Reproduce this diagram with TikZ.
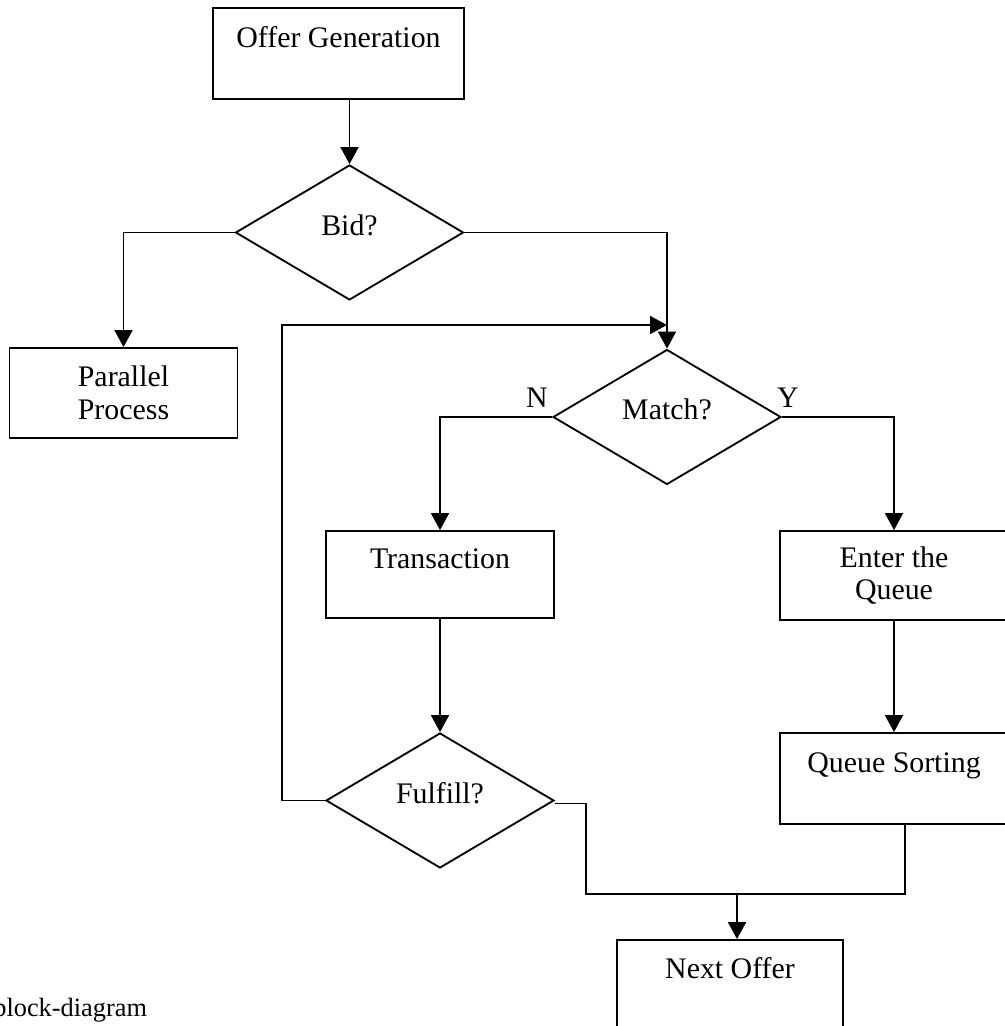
\documentclass[tikz,border=0pt]{standalone}
\usepackage{fontspec}
\setmainfont{Liberation Serif}
\usetikzlibrary{arrows.meta,shapes.geometric}

\begin{document}
\begin{tikzpicture}[x=0.02cm, y=-0.02cm,
        every node/.style={font=\fontsize{17}{18.5}\selectfont},
        box/.style={draw, line width=1.05pt, minimum width=4.56cm, minimum height=1.8cm, align=center, inner sep=2pt},
        topbox/.style={box, text height=12pt, text depth=19pt},
        decision/.style={draw, diamond, line width=1.05pt, aspect=1.7, inner sep=0pt,
            minimum width=4.56cm, minimum height=2.7cm, text height=12pt, text depth=9pt},
        flow/.style={line width=1.05pt, -{Triangle[length=0.34cm,width=0.36cm]}},
        link/.style={line width=1.05pt}]
    \useasboundingbox (0,0) rectangle (1004,1026);

    \node[topbox, minimum width=5.02cm, minimum height=1.82cm] (offer) at (338.5,53.5) {Offer Generation};
    \node[decision] (bid) at (349.5,232.5) {Bid?};
    \node[box] (parallel) at (123.5,393) {Parallel\\Process};
    \node[decision] (match) at (667,417) {Match?};
    \node[topbox, minimum height=1.74cm] (transaction) at (440,574.5) {Transaction};
    \node[box, minimum height=1.78cm] (enter) at (894,575.5) {Enter the\\Queue};
    \node[decision] (fulfill) at (440,800.5) {Fulfill?};
    \node[topbox, minimum height=1.82cm] (sorting) at (894,778.5) {Queue Sorting};
    \node[topbox, minimum width=4.52cm] (nextoffer) at (730,985) {Next Offer};

    \node (lblN) at (537,398) {N};
    \node (lblY) at (788,398) {Y};

    \coordinate (loopout) at (282,800.5);
    \coordinate (loopin) at (667,325);
    \coordinate (merge) at (737,894);

    \draw[flow] (offer.south -| bid.north) -- (bid.north);
    \draw[flow] (bid.west) -| (parallel.north);
    \draw[flow] (bid.east) -| (match.north);
    \draw[flow] (fulfill.west) -- (loopout) |- (loopin);
    \draw[flow] (match.west) -| (transaction.north);
    \draw[flow] (match.east) -| (enter.north);
    \draw[flow] (transaction.south) -- (fulfill.north);
    \draw[flow] (enter.south) -- (sorting.north);
    \draw[link] ([xshift=0.22cm]sorting.south) |- (merge);
    \draw[link] ([yshift=-0.06cm]fulfill.east) -- ++(31,0) |- (merge);
    \draw[flow] (merge) -- (merge |- nextoffer.north);

    \node[anchor=base west, font=\fontsize{15}{18}\selectfont, inner sep=0pt] (caption) at (-7,1016) {block-diagram};
\end{tikzpicture}
\end{document}
